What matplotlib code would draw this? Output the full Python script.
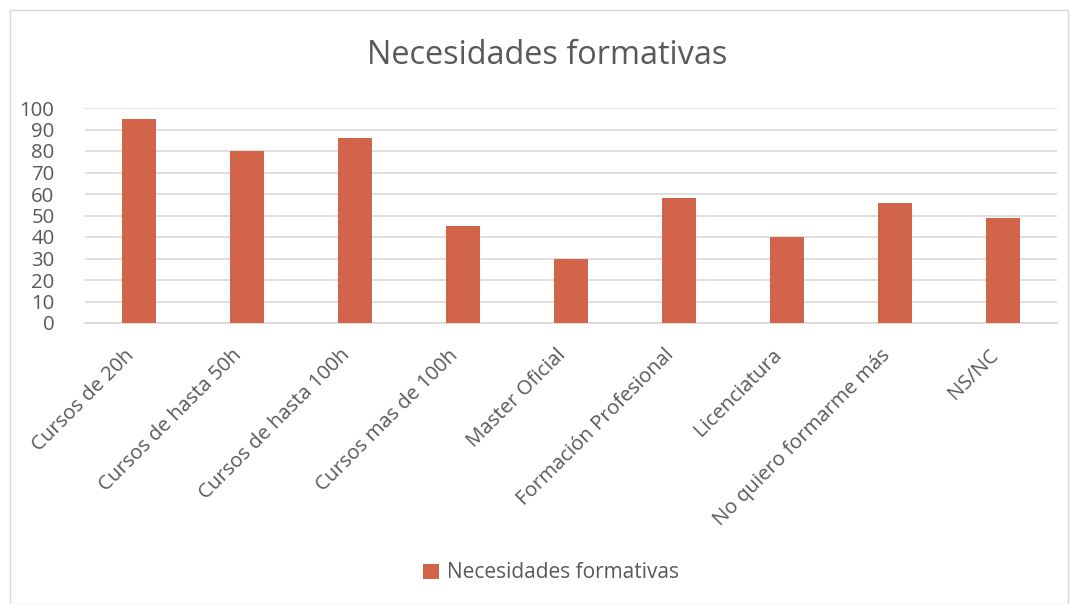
import matplotlib
matplotlib.use("Agg")
import matplotlib.pyplot as plt
from matplotlib.patches import Rectangle
from matplotlib.transforms import ScaledTranslation

categories = ["Cursos de 20h", "Cursos de hasta 50h", "Cursos de hasta 100h",
              "Cursos mas de 100h", "Master Oficial", "Formación Profesional",
              "Licenciatura", "No quiero formarme más", "NS/NC"]
values = [95, 80, 86, 45, 30, 58, 40, 56, 49]
series_name = "Necesidades formativas"
title = "Necesidades formativas"

plt.rcParams['font.family'] = ['Open Sans', 'DejaVu Sans']
txt = '#595959'
W, H = 1072, 604
fig = plt.figure(figsize=(W/100, H/100), dpi=100)
fig.patches.append(Rectangle((10/W, 0), (W-14)/W, (H-10)/H, transform=fig.transFigure,
                             fill=False, edgecolor='#D9D9D9', linewidth=1))
ax = fig.add_axes([85/W, 1-323/H, (1057-85)/W, (323-108)/H])
x = list(range(len(categories)))
ax.bar(x, values, width=0.315, color='#D2644A', zorder=3, label=series_name)
ax.set_xlim(-0.5, len(categories)-0.5)
ax.set_ylim(0, 100)
ax.set_yticks(range(0, 101, 10))
ax.yaxis.grid(True, color='#D9D9D9', linewidth=1.2, zorder=0)
for s in ['top', 'right', 'left']:
    ax.spines[s].set_visible(False)
ax.spines['bottom'].set_color('#D9D9D9')
ax.spines['bottom'].set_linewidth(1.2)
ax.tick_params(axis='both', length=0, labelsize=14.7, colors=txt)
ax.tick_params(axis='y', pad=22)
for lab in ax.get_yticklabels():
    lab.set_horizontalalignment('right')
ax.set_xticks(x)
ax.set_xticklabels(categories, rotation=45, ha='right', va='top', rotation_mode='anchor')
ax.tick_params(axis='x', pad=16)
off = ScaledTranslation(-15/100, 0, fig.dpi_scale_trans)
for lab in ax.get_xticklabels():
    lab.set_transform(lab.get_transform() + off)
fig.text(547/W, 1-55/H, title, ha='center', va='center', fontsize=23.4, color=txt)
leg = fig.legend(loc='center', bbox_to_anchor=(551/W, 1-573/H), frameon=False,
                 fontsize=15, handlelength=0.75, handleheight=0.75, handletextpad=0.4)
for t in leg.get_texts():
    t.set_color(txt)
fig.savefig('out.png', dpi=100)
